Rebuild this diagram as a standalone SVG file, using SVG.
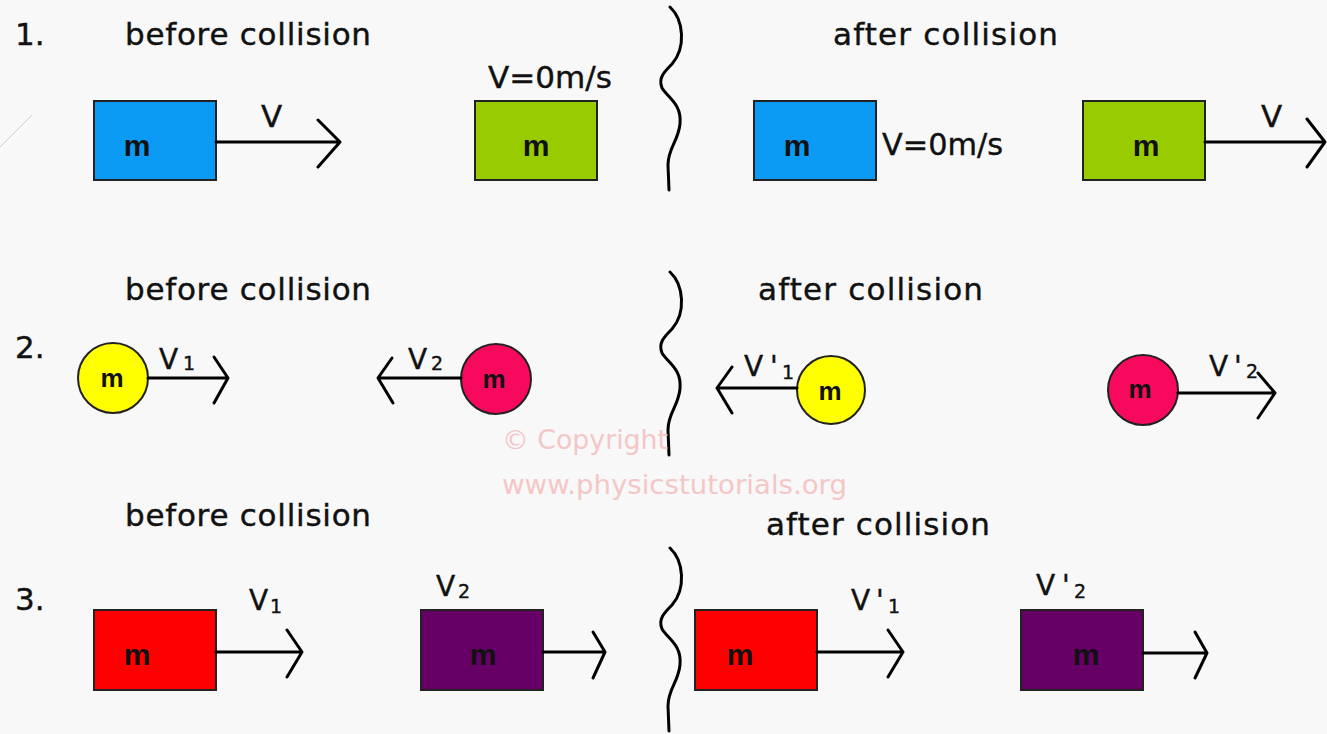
<svg xmlns="http://www.w3.org/2000/svg" xmlns:xlink="http://www.w3.org/1999/xlink" width="1327" height="734" viewBox="0 0 1327 734">
<style>
.t{font-family:"DejaVu Sans","Liberation Sans",sans-serif;fill:#111;stroke:#111;stroke-width:0.4}
.h{font-size:31px}
.v{font-size:28px}
.v1{font-size:31px}
.s{font-size:19px}
.m{font-family:"Liberation Sans",Arial,sans-serif;font-weight:bold;font-size:30px;fill:#111;text-anchor:middle}
.mc{font-size:26px}
.box{stroke:#222;stroke-width:2}
.arr{fill:none;stroke:#000;stroke-width:3;stroke-linecap:round;stroke-linejoin:round}
.brace{fill:none;stroke:#000;stroke-width:3;stroke-linecap:round}
.wm{font-family:"DejaVu Sans","Liberation Sans",sans-serif;font-size:26px;fill:#f4c6c6}
</style>
<defs>
<path id="br" d="M670 7 C684 20,686 48,672 64 C664 72,658 78,662 88 C668 98,682 104,680 124 C678 142,668 148,668 165 L669 190"/>
</defs>
<rect width="1327" height="734" fill="#f8f8f8"/>
<line x1="0" y1="147" x2="32" y2="115" stroke="#cfcfcf" stroke-width="1"/>

<g id="labels">
<text class="t h" x="15" y="45">1.</text>
<text class="t h" x="125" y="45" textLength="246" lengthAdjust="spacing">before collision</text>
<text class="t h" x="833" y="45" textLength="225" lengthAdjust="spacing">after collision</text>
<text class="t h" x="15" y="358">2.</text>
<text class="t h" x="125" y="300" textLength="246" lengthAdjust="spacing">before collision</text>
<text class="t h" x="758" y="300" textLength="225" lengthAdjust="spacing">after collision</text>
<text class="t h" x="15" y="610">3.</text>
<text class="t h" x="125" y="526" textLength="246" lengthAdjust="spacing">before collision</text>
<text class="t h" x="766" y="535" textLength="224" lengthAdjust="spacing">after collision</text>
</g>

<g id="separators" class="brace">
<use xlink:href="#br"/>
<use xlink:href="#br" transform="translate(0,265)"/>
<use xlink:href="#br" transform="translate(0,541)"/>
</g>

<g id="watermark">
<text class="wm" x="502" y="449" textLength="166" lengthAdjust="spacingAndGlyphs">© Copyright</text>
<text class="wm" x="502" y="494" textLength="345" lengthAdjust="spacingAndGlyphs">www.physicstutorials.org</text>
</g>

<g id="row1-before-blue">
<rect class="box" x="94" y="101" width="122" height="79" fill="#0c9bf4"/>
<text class="m" x="137" y="156">m</text>
</g>
<g id="row1-before-green">
<rect class="box" x="475" y="101" width="122" height="79" fill="#99cc00"/>
<text class="m" x="536" y="156">m</text>
<text class="t v1" x="488" y="88" textLength="124" lengthAdjust="spacingAndGlyphs">V=0m/s</text>
</g>
<g id="row1-after-blue">
<rect class="box" x="754" y="101" width="122" height="79" fill="#0c9bf4"/>
<text class="m" x="797" y="156">m</text>
<text class="t v1" x="882" y="155" textLength="121" lengthAdjust="spacingAndGlyphs">V=0m/s</text>
</g>
<g id="row1-after-green">
<rect class="box" x="1083" y="101" width="122" height="79" fill="#99cc00"/>
<text class="m" x="1146" y="156">m</text>
</g>

<g id="row2-before-yellow">
<circle class="box" cx="113" cy="378" r="35" fill="#ffff00"/>
<text class="m mc" x="112" y="387">m</text>
</g>
<g id="row2-before-red">
<circle class="box" cx="496" cy="379" r="35" fill="#f70a5e"/>
<text class="m mc" x="494" y="388">m</text>
</g>
<g id="row2-after-yellow">
<circle class="box" cx="831" cy="390" r="34" fill="#ffff00"/>
<text class="m mc" x="830" y="400">m</text>
</g>
<g id="row2-after-red">
<circle class="box" cx="1143" cy="390" r="35" fill="#f70a5e"/>
<text class="m mc" x="1140" y="398">m</text>
</g>

<g id="row3-before-red">
<rect class="box" x="94" y="610" width="122" height="80" fill="#ff0000"/>
<text class="m" x="137" y="665">m</text>
</g>
<g id="row3-before-purple">
<rect class="box" x="421" y="610" width="122" height="80" fill="#660066"/>
<text class="m" x="483" y="665">m</text>
</g>
<g id="row3-after-red">
<rect class="box" x="695" y="610" width="122" height="80" fill="#ff0000"/>
<text class="m" x="740" y="665">m</text>
</g>
<g id="row3-after-purple">
<rect class="box" x="1021" y="610" width="122" height="80" fill="#660066"/>
<text class="m" x="1086" y="665">m</text>
</g>

<g id="connectors" class="arr">
<path d="M216 142 L340 142 M318 120 L340 142 L318 167"/>
<path d="M1205 142 L1325 142 M1307 119 L1325 142 L1307 167"/>
<path d="M148 378 L228 378 M214 357 L228 378 L214 403"/>
<path d="M461 378 L378 378 M392 358 L378 378 L393 403"/>
<path d="M797 388 L717 388 M732 367 L717 388 L732 413"/>
<path d="M1178 393 L1275 393 M1258 373 L1275 393 L1258 418"/>
<path d="M216 652 L302 652 M287 630 L302 652 L287 677"/>
<path d="M543 652 L605 652 M593 632 L605 652 L593 678"/>
<path d="M817 652 L903 652 M888 630 L903 652 L888 677"/>
<path d="M1143 653 L1207 653 M1195 632 L1207 653 L1195 678"/>
</g>

<g id="velocity-labels">
<text class="t v1" x="261" y="127">V</text>
<text class="t v1" x="1261" y="127">V</text>
<text class="t v" x="159" y="369">V<tspan class="s" x="183" y="370">1</tspan></text>
<text class="t v" x="408" y="369">V<tspan class="s" x="431" y="370">2</tspan></text>
<text class="t v" x="744" y="376">V<tspan x="770">'</tspan><tspan class="s" x="782" y="379">1</tspan></text>
<text class="t v" x="1209" y="376">V<tspan x="1234">'</tspan><tspan class="s" x="1246" y="378">2</tspan></text>
<text class="t v" x="249" y="610">V<tspan class="s" x="270" y="613">1</tspan></text>
<text class="t v" x="436" y="596">V<tspan class="s" x="458" y="598">2</tspan></text>
<text class="t v" x="851" y="610">V<tspan x="876">'</tspan><tspan class="s" x="888" y="613">1</tspan></text>
<text class="t v" x="1036" y="595">V<tspan x="1062">'</tspan><tspan class="s" x="1074" y="598">2</tspan></text>
</g>
</svg>
